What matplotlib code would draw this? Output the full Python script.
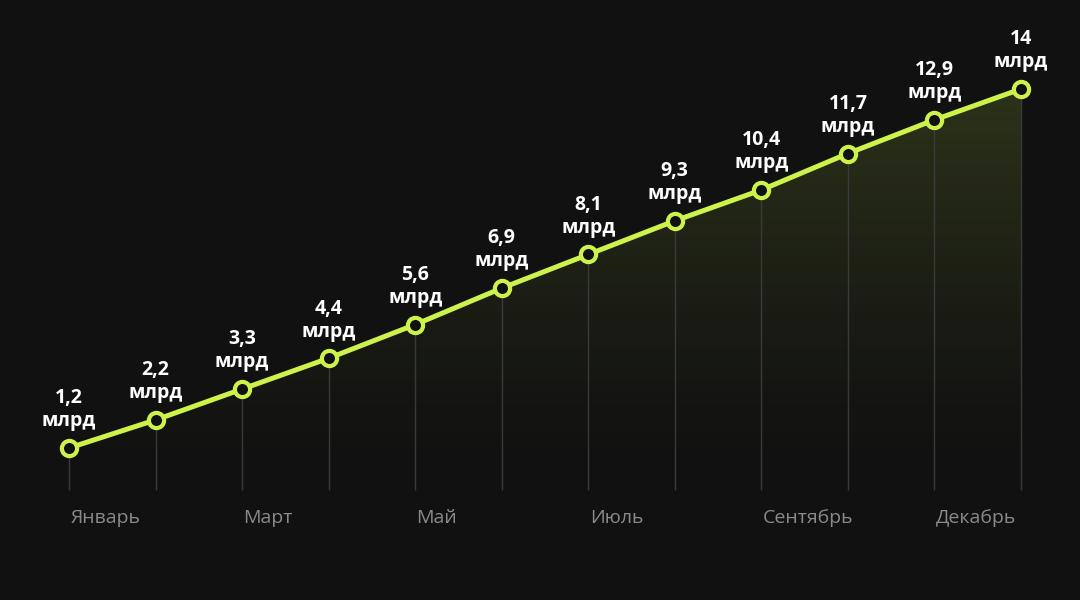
import numpy as np
import matplotlib.pyplot as plt
from matplotlib.colors import LinearSegmentedColormap

months = ['Январь', 'Февраль', 'Март', 'Апрель', 'Май', 'Июнь', 'Июль',
          'Август', 'Сентябрь', 'Октябрь', 'Ноябрь', 'Декабрь']
values = [1.2, 2.2, 3.3, 4.4, 5.6, 6.9, 8.1, 9.3, 10.4, 11.7, 12.9, 14]
value_labels = ['1,2', '2,2', '3,3', '4,4', '5,6', '6,9', '8,1', '9,3',
                '10,4', '11,7', '12,9', '14']
tick_idx = [0, 2, 4, 6, 8, 10]
tick_labels = ['Январь', 'Март', 'Май', 'Июль', 'Сентябрь', 'Декабрь']

bg = '#111111'
lime = '#cdf24b'
base = -0.3

fig = plt.figure(figsize=(10.8, 6), dpi=100, facecolor=bg)
ax = fig.add_axes([0, 0, 1, 1], facecolor=bg)
ax.set_xlim(-0.797, 11.682)
ax.set_ylim(-4.219, 17.173)
ax.axis('off')

x = np.arange(len(values))

# gradient fill under the line
cmap = LinearSegmentedColormap.from_list('g', [(0.80, 0.95, 0.29, 0.0), (0.80, 0.95, 0.29, 0.15)])
grad = np.linspace(0, 1, 256).reshape(-1, 1) ** 1.3
im = ax.imshow(grad, cmap=cmap, origin='lower', aspect='auto',
               extent=[x[0], x[-1], base, max(values)], zorder=1)
poly = ax.fill_between(x, values, base, color='none', lw=0)
clip = poly.get_paths()[0]
im.set_clip_path(clip, transform=ax.transData)

# vertical guide lines
ax.vlines(x, base, values, color='#3a3a3a', lw=1, zorder=2)

ax.plot(x, values, color=lime, lw=3.6, zorder=3, solid_capstyle='round')
ax.scatter(x, values, s=120, facecolor=bg, edgecolor=lime, linewidths=3, zorder=4)

for xi, v, lab in zip(x, values, value_labels):
    ax.annotate(f'{lab}\nмлрд', (xi, v), xytext=(0, 12), textcoords='offset points',
                ha='center', va='bottom', color='white', fontsize=14,
                fontweight='bold', family='Open Sans', linespacing=1.2, zorder=5)

for i, lab in zip(tick_idx, tick_labels):
    ax.annotate(lab, (i, base), xytext=(1, -20), textcoords='offset points',
                ha='left', va='center', color='#8a8a8a', fontsize=14,
                family='Open Sans', zorder=5)

fig.savefig('out.png', dpi=100, facecolor=bg)
